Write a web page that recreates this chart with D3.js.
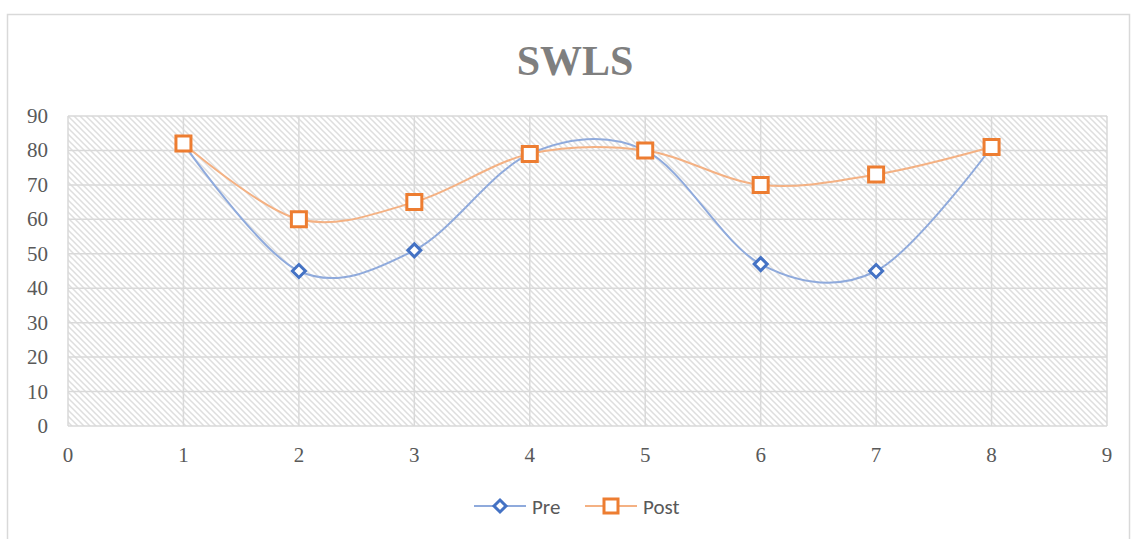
<!DOCTYPE html>
<html>
<head>
<meta charset="utf-8">
<script src="https://cdn.jsdelivr.net/npm/d3@7"></script>
<style>
  body { margin: 0; background: #fff; }
  svg { display: block; }
</style>
</head>
<body>
<svg id="chart" width="1131" height="539"></svg>
<script>
// chart values
const xValues = [1, 2, 3, 4, 5, 6, 7, 8];
const preValues = [82, 45, 51, 79, 80, 47, 45, 81];
const postValues = [82, 60, 65, 79, 80, 70, 73, 81];
const xTicks = [0, 1, 2, 3, 4, 5, 6, 7, 8, 9];
const yTicks = [0, 10, 20, 30, 40, 50, 60, 70, 80, 90];
const seriesNames = ['Pre', 'Post'];

const svg = d3.select('#chart');
const plotLeft = 68, plotRight = 1107, plotTop = 116, plotBottom = 426;

// hatch pattern for the plot area
const defs = svg.append('defs');
const pat = defs.append('pattern')
    .attr('id', 'hatch')
    .attr('patternUnits', 'userSpaceOnUse')
    .attr('width', 6).attr('height', 6);
pat.append('rect').attr('width', 6).attr('height', 6).attr('fill', '#fff');
pat.append('path')
    .attr('d', 'M-1,-1 L7,7 M-1,5 L1,7 M5,-1 L7,1')
    .attr('stroke', '#dedede')
    .attr('stroke-width', 1.5);

// outer frame
svg.append('rect')
    .attr('x', 7.5).attr('y', 14.5)
    .attr('width', 1122).attr('height', 540)
    .attr('fill', 'none')
    .attr('stroke', '#d9d9d9')
    .attr('stroke-width', 1.5);

const x = d3.scaleLinear().domain([0, 9]).range([plotLeft, plotRight]);
const y = d3.scaleLinear().domain([0, 90]).range([plotBottom, plotTop]);

svg.append('rect')
    .attr('x', plotLeft).attr('y', plotTop)
    .attr('width', plotRight - plotLeft).attr('height', plotBottom - plotTop)
    .attr('fill', 'url(#hatch)');

// gridlines
svg.append('g')
    .selectAll('line')
    .data(yTicks)
    .enter().append('line')
    .attr('x1', plotLeft).attr('x2', plotRight)
    .attr('y1', d => y(d)).attr('y2', d => y(d))
    .attr('stroke', '#d9d9d9').attr('stroke-width', 1.5);

svg.append('g')
    .selectAll('line')
    .data(xTicks)
    .enter().append('line')
    .attr('x1', d => x(d)).attr('x2', d => x(d))
    .attr('y1', plotTop).attr('y2', plotBottom)
    .attr('stroke', '#d9d9d9').attr('stroke-width', 1.5);

// axis labels
svg.append('g')
    .selectAll('text')
    .data(yTicks)
    .enter().append('text')
    .attr('x', 48)
    .attr('y', d => y(d) + 7)
    .attr('text-anchor', 'end')
    .attr('font-family', 'Liberation Serif, serif')
    .attr('font-size', 21)
    .attr('fill', '#595959')
    .text(d => d);

svg.append('g')
    .selectAll('text')
    .data(xTicks)
    .enter().append('text')
    .attr('x', d => x(d))
    .attr('y', 462)
    .attr('text-anchor', 'middle')
    .attr('font-family', 'Liberation Serif, serif')
    .attr('font-size', 21)
    .attr('fill', '#595959')
    .text(d => d);

// title
svg.append('text')
    .attr('x', 575).attr('y', 75)
    .attr('text-anchor', 'middle')
    .attr('font-family', 'Liberation Serif, serif')
    .attr('font-weight', 'bold')
    .attr('font-size', 42)
    .attr('fill', '#7f7f7f')
    .text('SWLS');

const line = d3.line()
    .x((d, i) => x(xValues[i]))
    .y(d => y(d))
    .curve(d3.curveCardinal.tension(0));

const diamond = s => `M0,${-s} L${s},0 L0,${s} L${-s},0 Z`;
const square = s => `M${-s},${-s} H${s} V${s} H${-s} Z`;

// Pre series
svg.append('path')
    .datum(preValues)
    .attr('d', line)
    .attr('fill', 'none')
    .attr('stroke', '#8faadc')
    .attr('stroke-width', 2);

// Post series
svg.append('path')
    .datum(postValues)
    .attr('d', line)
    .attr('fill', 'none')
    .attr('stroke', '#f4b183')
    .attr('stroke-width', 2);

svg.append('g')
    .selectAll('path')
    .data(preValues)
    .enter().append('path')
    .attr('transform', (d, i) => `translate(${x(xValues[i])},${y(d)})`)
    .attr('d', diamond(6.5))
    .attr('fill', '#fff')
    .attr('stroke', '#4472c4')
    .attr('stroke-width', 3);

svg.append('g')
    .selectAll('path')
    .data(postValues)
    .enter().append('path')
    .attr('transform', (d, i) => `translate(${x(xValues[i])},${y(d)})`)
    .attr('d', square(7.5))
    .attr('fill', '#fff')
    .attr('stroke', '#ed7d31')
    .attr('stroke-width', 3);

// legend
const legend = svg.append('g');
const legendItems = [
    { name: seriesNames[0], x0: 474, line: '#8faadc', stroke: '#4472c4', shape: diamond(6) },
    { name: seriesNames[1], x0: 585, line: '#f4b183', stroke: '#ed7d31', shape: square(7) }
];
legendItems.forEach(it => {
    legend.append('line')
        .attr('x1', it.x0).attr('x2', it.x0 + 52)
        .attr('y1', 506).attr('y2', 506)
        .attr('stroke', it.line).attr('stroke-width', 2);
    legend.append('path')
        .attr('transform', `translate(${it.x0 + 26},506)`)
        .attr('d', it.shape)
        .attr('fill', '#fff')
        .attr('stroke', it.stroke)
        .attr('stroke-width', 3);
    legend.append('text')
        .attr('x', it.x0 + 58).attr('y', 514)
        .attr('font-family', 'Carlito, Liberation Sans, sans-serif')
        .attr('font-size', 21)
        .attr('fill', '#595959')
        .text(it.name);
});
</script>
</body>
</html>
